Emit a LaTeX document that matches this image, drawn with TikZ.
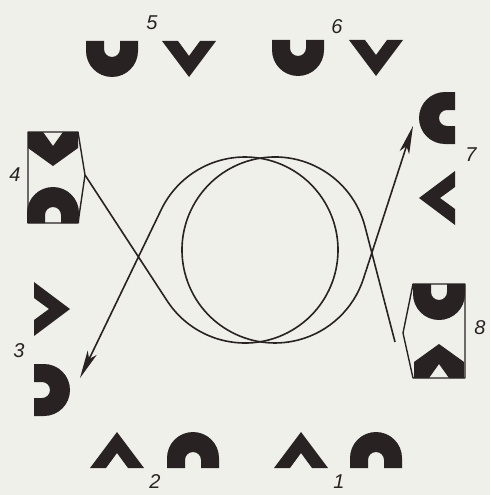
\documentclass[tikz,border=0pt]{standalone}
\usepackage{fontspec}
\setmainfont{Liberation Sans}
\usetikzlibrary{arrows.meta}
\definecolor{ink}{RGB}{40,34,34}
\definecolor{paper}{RGB}{240,240,235}
\begin{document}
\begin{tikzpicture}[x=1pt,y=-1pt,
  lbl/.style={font=\itshape\fontsize{20}{20}\selectfont, inner sep=0pt, text=ink},
  fiber/.style={line width=1.6pt, draw=ink},
  boxline/.style={line width=1.4pt, draw=ink, line join=round},
  tip/.style={-{Stealth[length=28pt,width=10pt,inset=7pt]}},
  archshape/.pic={\fill[ink] (-26,0) -- (-26,-10) arc[start angle=180,end angle=360,radius=26] -- (26,0) -- (8,0) -- (8,-8) arc[start angle=0,end angle=-180,radius=8] -- (-8,0) -- cycle;},
  chevshape/.pic={\fill[ink] (-27,0) -- (0,-36) -- (27,0) -- (11,0) -- (0,-15) -- (-11,0) -- cycle;},
  boxchevshape/.pic={\fill[ink] (-25,0) -- (-25,-16) -- (0,-34) -- (25,-16) -- (25,0) -- (10,0) -- (0,-14) -- (-10,0) -- cycle;}
]
\fill[paper] (0,0) rectangle (490,495);
\useasboundingbox (0,0) rectangle (490,495);

% top row (5, 6)
\pic[rotate=180] at (112,41) {archshape};
\pic[rotate=180] at (189,41) {chevshape};
\pic[rotate=180] at (298,40) {archshape};
\pic[rotate=180] at (376,40) {chevshape};
% bottom row (2, 1)
\pic at (117,468) {chevshape};
\pic at (193,468) {archshape};
\pic at (301,468) {chevshape};
\pic at (376,468) {archshape};
% right column (7)
\pic[rotate=90] at (455,118) {archshape};
\pic[rotate=90] at (455,198) {chevshape};
% left column (3)
\pic[rotate=-90] at (34,309) {chevshape};
\pic[rotate=-90] at (34,390) {archshape};

% box 4
\draw[boxline] (28,132) -- (78,132) -- (85,175) -- (78,223) -- (28,223) -- cycle;
\pic[rotate=180] at (53,132) {boxchevshape};
\pic at (53,223) {archshape};
% box 8
\draw[boxline] (465,284) -- (413,284) -- (403,333) -- (413,378) -- (465,378) -- cycle;
\pic[rotate=180] at (439,284) {archshape};
\pic at (439,378) {boxchevshape};

% fibre coil
\coordinate (a4) at (85,175);
\coordinate (t3) at (80,378);
\coordinate (a8) at (395,342);
\coordinate (t7) at (413,126);
\draw[fiber,tip] (a4) -- (167.1,300.8) arc[start angle=146.9,end angle=-154.25,radius=93] -- (t3);
\draw[fiber,tip] (a8) -- (365.0,226.6) arc[start angle=-14.56,end angle=-342.03,radius=93] -- (t7);

% labels
\node[lbl] (n5) at (152,23) {5};
\node[lbl] (n6) at (337,27) {6};
\node[lbl] (n7) at (471,155) {7};
\node[lbl] (n8) at (480,328) {8};
\node[lbl] (n4) at (15,175) {4};
\node[lbl] (n3) at (19,351) {3};
\node[lbl] (n2) at (155,482) {2};
\node[lbl] (n1) at (339,482) {1};
\end{tikzpicture}
\end{document}
